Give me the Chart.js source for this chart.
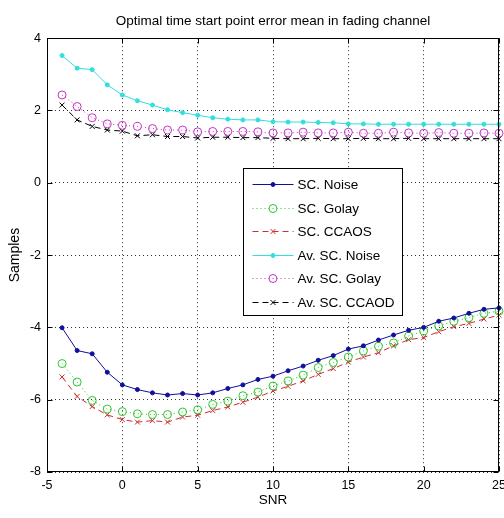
<!DOCTYPE html>
<html lang="en">
<head>
<meta charset="UTF-8" />
<title>Optimal time start point error mean in fading channel</title>
<script src="https://cdn.jsdelivr.net/npm/chart.js"></script>
<style>
  html, body { margin: 0; padding: 0; background: #fff; }
  #wrap { width: 504px; height: 518px; }
</style>
</head>
<body>
<div id="wrap"><canvas id="chart" width="504" height="518"></canvas></div>
<script>
  // SNR values (x axis)
  const snr = [-4,-3,-2,-1,0,1,2,3,4,5,6,7,8,9,10,11,12,13,14,15,16,17,18,19,20,21,22,23,24,25];

  // series
  const scNoise  = [-4.01,-4.64,-4.73,-5.24,-5.59,-5.72,-5.81,-5.87,-5.83,-5.87,-5.81,-5.69,-5.59,-5.44,-5.35,
                    -5.20,-5.07,-4.91,-4.78,-4.60,-4.51,-4.35,-4.21,-4.08,-4.00,-3.83,-3.74,-3.61,-3.50,-3.46];
  const scGolay  = [-5.00,-5.51,-6.02,-6.26,-6.33,-6.39,-6.41,-6.41,-6.34,-6.28,-6.13,-6.04,-5.89,-5.79,-5.62,
                    -5.48,-5.32,-5.11,-4.97,-4.82,-4.65,-4.52,-4.43,-4.24,-4.10,-3.96,-3.83,-3.73,-3.61,-3.55];
  const scCcaos  = [-5.37,-5.91,-6.19,-6.42,-6.55,-6.62,-6.58,-6.62,-6.48,-6.43,-6.30,-6.20,-6.07,-5.93,-5.76,
                    -5.63,-5.48,-5.30,-5.14,-4.96,-4.82,-4.70,-4.51,-4.34,-4.28,-4.12,-3.98,-3.89,-3.77,-3.66];
  const avNoise  = [3.52,3.17,3.13,2.71,2.43,2.27,2.15,2.02,1.94,1.87,1.80,1.76,1.74,1.74,1.69,
                    1.68,1.68,1.67,1.66,1.63,1.63,1.62,1.62,1.62,1.62,1.62,1.62,1.62,1.62,1.62];
  const avGolay  = [2.43,2.11,1.80,1.63,1.59,1.56,1.50,1.46,1.46,1.41,1.42,1.42,1.42,1.41,1.38,
                    1.38,1.40,1.38,1.38,1.40,1.37,1.37,1.40,1.38,1.37,1.39,1.37,1.37,1.38,1.37];
  const avCcaod  = [2.15,1.74,1.56,1.46,1.43,1.30,1.33,1.28,1.28,1.24,1.26,1.26,1.25,1.25,1.23,
                    1.22,1.22,1.23,1.22,1.22,1.23,1.22,1.22,1.23,1.22,1.22,1.22,1.22,1.22,1.22];

  const seriesNames = ['SC. Noise','SC. Golay','SC. CCAOS','Av. SC. Noise','Av. SC. Golay','Av. SC. CCAOD'];
  const xTicks = [-5,0,5,10,15,20,25];
  const yTicks = [-8,-6,-4,-2,0,2,4];

  const FONT = "'Liberation Sans', Arial, sans-serif";
  Chart.defaults.font.family = FONT;
  Chart.defaults.color = '#000';

  const DOT = [1, 3];
  const DASH = [6, 4];

  // one style per curve, matlab style: '.-', ':o', '--x'
  const styles = [
    { color: '#10109a', dash: [],   point: 'circle',   radius: 2,   fill: true },
    { color: '#2ec82e', dash: DOT,  point: 'circle',   radius: 4,   fill: false },
    { color: '#c83232', dash: DASH, point: 'crossRot', radius: 3.5, fill: false },
    { color: '#33dede', dash: [],   point: 'circle',   radius: 2,   fill: true },
    { color: '#c433c4', dash: DOT,  point: 'circle',   radius: 4,   fill: false },
    { color: '#000000', dash: DASH, point: 'crossRot', radius: 3.5, fill: false }
  ];
  const values = [scNoise, scGolay, scCcaos, avNoise, avGolay, avCcaod];

  const datasets = values.map((vals, i) => {
    const s = styles[i];
    return {
      label: seriesNames[i],
      data: vals.map((v, k) => ({ x: snr[k], y: v })),
      borderColor: s.color,
      borderWidth: 1,
      borderDash: s.dash,
      pointStyle: s.point,
      pointRadius: s.radius,
      pointBorderColor: s.color,
      pointBackgroundColor: s.fill ? s.color : 'rgba(0,0,0,0)',
      pointBorderWidth: 1,
      tension: 0,
      clip: false
    };
  });

  const matlabFrame = {
    id: 'matlabFrame',
    beforeDraw(chart) {
      const ctx = chart.ctx;
      ctx.save();
      ctx.fillStyle = '#fff';
      ctx.fillRect(0, 0, chart.width, chart.height);
      ctx.restore();
    },
    afterDatasetsDraw(chart) {
      const ctx = chart.ctx;
      const ca = chart.chartArea;
      const xs = chart.scales.x, ys = chart.scales.y;
      const L = Math.round(ca.left) + 0.5, R = Math.round(ca.right) - 0.5;
      const T = Math.round(ca.top) + 0.5, B = Math.round(ca.bottom) - 0.5;
      ctx.save();
      ctx.strokeStyle = '#000';
      ctx.lineWidth = 1;
      ctx.setLineDash([]);
      ctx.strokeRect(L, T, R - L, B - T);
      // inward ticks on all four sides
      const tl = 5;
      ctx.beginPath();
      xTicks.forEach(v => {
        const px = Math.round(xs.getPixelForValue(v)) + 0.5;
        ctx.moveTo(px, B); ctx.lineTo(px, B - tl);
        ctx.moveTo(px, T); ctx.lineTo(px, T + tl);
      });
      yTicks.forEach(v => {
        const py = Math.round(ys.getPixelForValue(v)) + 0.5;
        ctx.moveTo(L, py); ctx.lineTo(L + tl, py);
        ctx.moveTo(R, py); ctx.lineTo(R - tl, py);
      });
      ctx.stroke();
      ctx.restore();
    },
    afterDraw(chart) {
      // legend box like matlab's
      const ctx = chart.ctx;
      const ca = chart.chartArea;
      const left = Math.round(ca.left + 196) + 0.5;
      const top = Math.round(ca.top + 130) + 0.5;
      const w = 159, h = 147;
      ctx.save();
      ctx.fillStyle = '#fff';
      ctx.fillRect(left, top, w, h);
      ctx.strokeStyle = '#000';
      ctx.lineWidth = 1;
      ctx.setLineDash([]);
      ctx.strokeRect(left, top, w, h);
      ctx.font = '13.5px ' + FONT;
      ctx.textBaseline = 'middle';
      ctx.textAlign = 'left';
      seriesNames.forEach((name, i) => {
        const s = styles[i];
        const y = Math.round(top + 15.5 + i * 23.6) + 0.5;
        const x0 = left + 9, x1 = left + 50, xm = (x0 + x1) / 2;
        ctx.strokeStyle = s.color;
        ctx.setLineDash(s.dash);
        ctx.beginPath();
        ctx.moveTo(x0, y); ctx.lineTo(x1, y);
        ctx.stroke();
        ctx.setLineDash([]);
        ctx.fillStyle = s.fill ? s.color : 'rgba(0,0,0,0)';
        Chart.helpers.drawPoint(ctx, { pointStyle: s.point, radius: s.radius, rotation: 0, borderWidth: 1 }, xm, y);
        ctx.fillStyle = '#000';
        ctx.fillText(name, left + 54, y + 1);
      });
      ctx.restore();
    }
  };

  new Chart(document.getElementById('chart').getContext('2d'), {
    type: 'line',
    data: { datasets },
    plugins: [matlabFrame],
    options: {
      responsive: false,
      animation: false,
      events: [],
      layout: { padding: { top: 0, right: 5, bottom: 0, left: 0 } },
      plugins: {
        legend: { display: false },
        tooltip: { enabled: false },
        title: {
          display: true,
          fullSize: false,
          text: 'Optimal time start point error mean in fading channel',
          color: '#000',
          font: { size: 13.5, weight: 'normal' },
          padding: { top: 13, bottom: 9 }
        }
      },
      scales: {
        x: {
          type: 'linear',
          min: -5, max: 25,
          afterBuildTicks: s => { s.ticks = xTicks.map(v => ({ value: v })); },
          afterFit: s => { s.height = 46; s.paddingLeft = 0; s.paddingRight = 0; },
          grid: { color: '#333', lineWidth: 1, drawTicks: false },
          border: { display: false, dash: DOT },
          ticks: { font: { size: 12.5 }, padding: 6, maxRotation: 0, autoSkip: false, color: '#000' },
          title: { display: true, text: 'SNR', font: { size: 13.5 }, color: '#000', padding: { top: 0, bottom: 10 } }
        },
        y: {
          type: 'linear',
          min: -8, max: 4,
          afterBuildTicks: s => { s.ticks = yTicks.map(v => ({ value: v })); },
          afterFit: s => { s.width = 47; },
          grid: { color: '#333', lineWidth: 1, drawTicks: false },
          border: { display: false, dash: DOT },
          ticks: { font: { size: 12.5 }, padding: 6, color: '#000' },
          title: { display: true, text: 'Samples', font: { size: 14 }, color: '#000', padding: { top: 7, bottom: 0 } }
        }
      }
    }
  });
</script>
</body>
</html>
